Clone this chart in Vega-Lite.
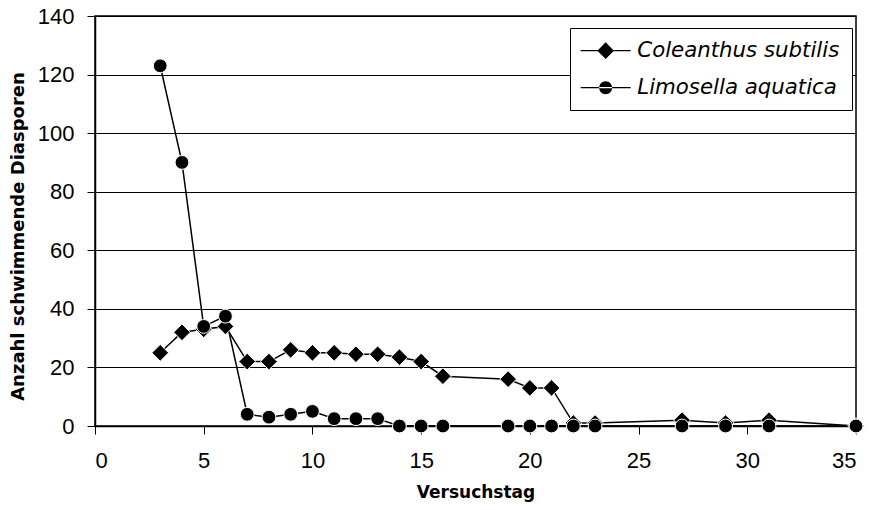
{
  "$schema": "https://vega.github.io/schema/vega-lite/v6.json",
  "width": 761,
  "height": 410,
  "autosize": {"type": "none"},
  "padding": {"left": 95, "top": 16, "right": 17, "bottom": 84},
  "background": "white",
  "config": {
    "font": "Liberation Sans",
    "view": {"stroke": "black", "strokeWidth": 1.5},
    "axis": {
      "labelFont": "Liberation Sans",
      "titleFont": "DejaVu Sans",
      "labelColor": "black",
      "titleColor": "black",
      "domainColor": "black",
      "tickColor": "black",
      "gridColor": "black",
      "gridWidth": 1,
      "domainWidth": 1.5,
      "tickWidth": 1
    }
  },
  "data": {
    "values": [
      {"tag": 3, "n": 25, "art": "Coleanthus subtilis"},
      {"tag": 4, "n": 32, "art": "Coleanthus subtilis"},
      {"tag": 5, "n": 33, "art": "Coleanthus subtilis"},
      {"tag": 6, "n": 34, "art": "Coleanthus subtilis"},
      {"tag": 7, "n": 22, "art": "Coleanthus subtilis"},
      {"tag": 8, "n": 22, "art": "Coleanthus subtilis"},
      {"tag": 9, "n": 26, "art": "Coleanthus subtilis"},
      {"tag": 10, "n": 25, "art": "Coleanthus subtilis"},
      {"tag": 11, "n": 25, "art": "Coleanthus subtilis"},
      {"tag": 12, "n": 24.5, "art": "Coleanthus subtilis"},
      {"tag": 13, "n": 24.5, "art": "Coleanthus subtilis"},
      {"tag": 14, "n": 23.5, "art": "Coleanthus subtilis"},
      {"tag": 15, "n": 22, "art": "Coleanthus subtilis"},
      {"tag": 16, "n": 17, "art": "Coleanthus subtilis"},
      {"tag": 19, "n": 16, "art": "Coleanthus subtilis"},
      {"tag": 20, "n": 13, "art": "Coleanthus subtilis"},
      {"tag": 21, "n": 13, "art": "Coleanthus subtilis"},
      {"tag": 22, "n": 1, "art": "Coleanthus subtilis"},
      {"tag": 23, "n": 1, "art": "Coleanthus subtilis"},
      {"tag": 27, "n": 2, "art": "Coleanthus subtilis"},
      {"tag": 29, "n": 1, "art": "Coleanthus subtilis"},
      {"tag": 31, "n": 2, "art": "Coleanthus subtilis"},
      {"tag": 35, "n": 0, "art": "Coleanthus subtilis"},
      {"tag": 3, "n": 123, "art": "Limosella aquatica"},
      {"tag": 4, "n": 90, "art": "Limosella aquatica"},
      {"tag": 5, "n": 34, "art": "Limosella aquatica"},
      {"tag": 6, "n": 37.5, "art": "Limosella aquatica"},
      {"tag": 7, "n": 4, "art": "Limosella aquatica"},
      {"tag": 8, "n": 3, "art": "Limosella aquatica"},
      {"tag": 9, "n": 4, "art": "Limosella aquatica"},
      {"tag": 10, "n": 5, "art": "Limosella aquatica"},
      {"tag": 11, "n": 2.5, "art": "Limosella aquatica"},
      {"tag": 12, "n": 2.5, "art": "Limosella aquatica"},
      {"tag": 13, "n": 2.5, "art": "Limosella aquatica"},
      {"tag": 14, "n": 0, "art": "Limosella aquatica"},
      {"tag": 15, "n": 0, "art": "Limosella aquatica"},
      {"tag": 16, "n": 0, "art": "Limosella aquatica"},
      {"tag": 19, "n": 0, "art": "Limosella aquatica"},
      {"tag": 20, "n": 0, "art": "Limosella aquatica"},
      {"tag": 21, "n": 0, "art": "Limosella aquatica"},
      {"tag": 22, "n": 0, "art": "Limosella aquatica"},
      {"tag": 23, "n": 0, "art": "Limosella aquatica"},
      {"tag": 27, "n": 0, "art": "Limosella aquatica"},
      {"tag": 29, "n": 0, "art": "Limosella aquatica"},
      {"tag": 31, "n": 0, "art": "Limosella aquatica"},
      {"tag": 35, "n": 0, "art": "Limosella aquatica"}
    ]
  },
  "encoding": {
    "x": {
      "field": "tag",
      "type": "quantitative",
      "scale": {"domain": [0, 35], "nice": false, "zero": false},
      "axis": {
        "title": "Versuchstag",
        "values": [0, 5, 10, 15, 20, 25, 30, 35],
        "grid": false,
        "tickSize": 8,
        "labelFontSize": 22,
        "labelPadding": 16,
        "titleFontSize": 17,
        "titleFontWeight": "bold",
        "titlePadding": 13
      }
    },
    "y": {
      "field": "n",
      "type": "quantitative",
      "scale": {"domain": [0, 140], "nice": false},
      "axis": {
        "title": "Anzahl schwimmende Diasporen",
        "values": [0, 20, 40, 60, 80, 100, 120, 140],
        "grid": true,
        "tickSize": 8,
        "labelFontSize": 22,
        "labelPadding": 13,
        "titleFontSize": 18,
        "titleFontWeight": "bold",
        "titlePadding": 10,
        "titleY": 220
      }
    }
  },
  "layer": [
    {
      "mark": {"type": "line", "color": "black", "strokeWidth": 1.5},
      "encoding": {"detail": {"field": "art"}}
    },
    {
      "transform": [{"filter": "datum.art == 'Coleanthus subtilis'"}],
      "mark": {"type": "point", "shape": "diamond", "filled": true, "opacity": 1, "fill": "black", "stroke": "white", "strokeWidth": 1, "size": 280}
    },
    {
      "transform": [{"filter": "datum.art == 'Limosella aquatica'"}],
      "mark": {"type": "point", "shape": "circle", "filled": true, "opacity": 1, "fill": "black", "stroke": "white", "strokeWidth": 1, "size": 190}
    },
    {
      "transform": [{"filter": "false"}],
      "mark": {"type": "point", "filled": true, "opacity": 1, "fill": "black", "strokeWidth": 0},
      "encoding": {
        "shape": {
          "field": "art",
          "type": "nominal",
          "scale": {
            "domain": ["Coleanthus subtilis", "Limosella aquatica"],
            "range": [
              "M-1.2,-0.06L3.8,-0.06L3.8,0.06L-1.2,0.06ZM1.3,-0.83L2.13,0L1.3,0.83L0.47,0Z",
              "M-1.2,-0.06L3.8,-0.06L3.8,0.06L-1.2,0.06ZM0.65,0A0.65,0.65 0 1,0 1.95,0A0.65,0.65 0 1,0 0.65,0Z"
            ]
          },
          "legend": {
            "title": null,
            "orient": "none",
            "legendX": 475,
            "legendY": 12,
            "padding": 12,
            "fillColor": "white",
            "strokeColor": "black",
            "symbolSize": 400,
            "symbolFillColor": "black",
            "symbolStrokeWidth": 0,
            "symbolOpacity": 1,
            "labelFont": "DejaVu Sans",
            "labelFontSize": 21.3,
            "labelFontStyle": "italic",
            "labelColor": "black",
            "labelOffset": 34,
            "labelLimit": 400,
            "rowPadding": 15
          }
        }
      }
    }
  ]
}
